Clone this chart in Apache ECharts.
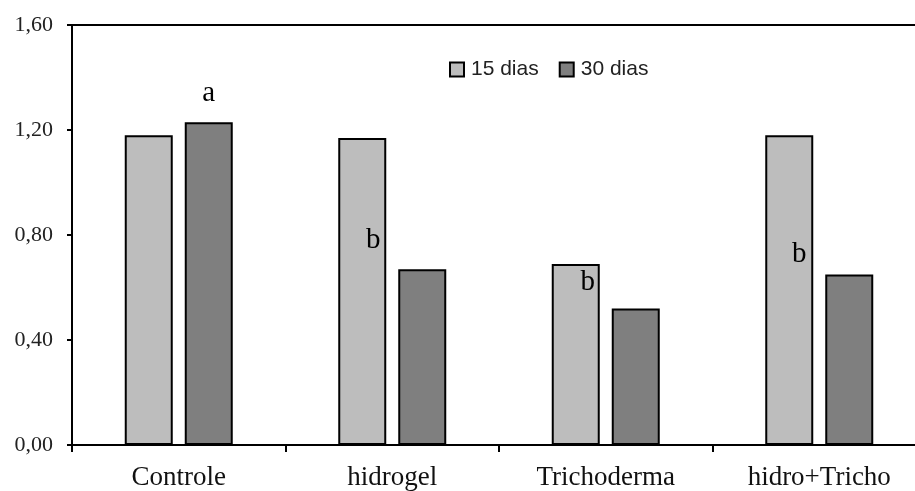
<!DOCTYPE html>
<html>
<head>
<meta charset="utf-8">
<script src="https://cdn.jsdelivr.net/npm/echarts@6/dist/echarts.min.js"></script>
<style>
html,body{margin:0;padding:0;background:#fff;overflow:hidden;}
#chart{width:926px;height:491px;}
</style>
</head>
<body>
<div id="chart"></div>
<script>
var categories = ['Controle', 'hidrogel', 'Trichoderma', 'hidro+Tricho'];
var seriesNames = ['15 dias', '30 dias'];
var values15 = [1.18, 1.17, 0.69, 1.18];
var values30 = [1.23, 0.67, 0.52, 0.65];
var letters15 = ['', 'b', 'b', 'b'];
var letters30 = ['a', '', '', ''];
var yTicks = [0, 0.4, 0.8, 1.2, 1.6];

// label placement styles (pixel offsets within each bar)
var pos15 = [null, [35, 103], [36, 19], [34, 119]];
var pos30 = [[24, -29], null, null, null];

function buildData(vals, letters, pos) {
  return vals.map(function (v, i) {
    var item = { value: v };
    if (letters[i]) {
      item.label = {
        show: true,
        formatter: letters[i],
        position: pos[i],
        align: 'center',
        verticalAlign: 'middle',
        fontFamily: 'Liberation Serif',
        fontSize: 29,
        color: '#000'
      };
    }
    return item;
  });
}

var chart = echarts.init(document.getElementById('chart'));
var axisLineStyle = { color: '#000', width: 2 };
chart.setOption({
  animation: false,
  backgroundColor: '#fff',
  grid: { left: 72, top: 25, right: 0, bottom: 43, containLabel: false },
  legend: {
    data: seriesNames,
    left: 444,
    top: 54,
    itemWidth: 14,
    itemHeight: 14,
    itemGap: 20,
    icon: 'rect',
    textStyle: { fontFamily: 'Liberation Sans', fontSize: 21, color: '#222', padding: [0, 0, 0, 2] }
  },
  xAxis: [{
    type: 'category',
    data: categories,
    position: 'bottom',
    axisLine: { show: true, lineStyle: axisLineStyle },
    axisTick: { show: true, length: 7, lineStyle: axisLineStyle, alignWithLabel: false },
    axisLabel: { fontFamily: 'Liberation Serif', fontSize: 27, color: '#111', margin: 19 },
    splitLine: { show: false }
  }, {
    type: 'category',
    data: categories,
    position: 'top',
    axisLine: { show: true, lineStyle: axisLineStyle },
    axisTick: { show: false },
    axisLabel: { show: false },
    splitLine: { show: false }
  }],
  yAxis: {
    type: 'value',
    min: yTicks[0],
    max: yTicks[yTicks.length - 1],
    interval: 0.4,
    axisLine: { show: true, lineStyle: axisLineStyle },
    axisTick: { show: true, length: 5, lineStyle: axisLineStyle },
    splitLine: { show: false },
    axisLabel: {
      fontFamily: 'Liberation Serif',
      fontSize: 22,
      color: '#222',
      margin: 19,
      formatter: function (v) { return v.toFixed(2).replace('.', ','); }
    }
  },
  series: [{
    name: seriesNames[0],
    type: 'bar',
    xAxisIndex: 0,
    barWidth: 48,
    barGap: '25%',
    itemStyle: { color: '#bdbdbd', borderColor: '#000', borderWidth: 2 },
    data: buildData(values15, letters15, pos15)
  }, {
    name: seriesNames[1],
    type: 'bar',
    xAxisIndex: 0,
    barWidth: 48,
    barGap: '25%',
    itemStyle: { color: '#7f7f7f', borderColor: '#000', borderWidth: 2 },
    data: buildData(values30, letters30, pos30)
  }]
});
</script>
</body>
</html>
